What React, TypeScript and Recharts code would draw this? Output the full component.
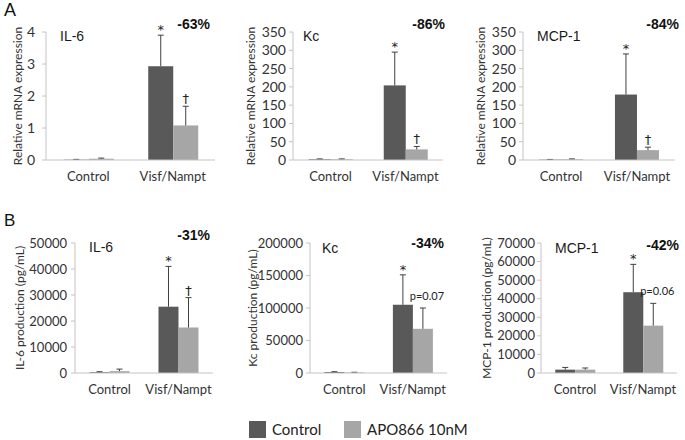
import React from 'react';
import { BarChart, Bar, XAxis, YAxis, Label } from 'recharts';

// x categories shared by every panel
const categories = ['Control', 'Visf/Nampt'];

// A: relative mRNA expression
const il6MrnaCtrl = [0.01, 2.93];
const il6MrnaCtrlErr = [0.01, 0.97];
const il6MrnaApo = [0.04, 1.08];
const il6MrnaApoErr = [0.02, 0.6];

const kcMrnaCtrl = [2, 204];
const kcMrnaCtrlErr = [1, 91];
const kcMrnaApo = [2, 29];
const kcMrnaApoErr = [1, 8];

const mcpMrnaCtrl = [1, 179];
const mcpMrnaCtrlErr = [0.5, 111];
const mcpMrnaApo = [2, 27];
const mcpMrnaApoErr = [1, 8];

// B: protein production (pg/mL)
const il6ProdCtrl = [300, 25500];
const il6ProdCtrlErr = [200, 15500];
const il6ProdApo = [700, 17500];
const il6ProdApoErr = [800, 11500];

const kcProdCtrl = [1500, 105000];
const kcProdCtrlErr = [500, 46000];
const kcProdApo = [800, 68000];
const kcProdApoErr = [300, 32000];

const mcpProdCtrl = [1800, 43500];
const mcpProdCtrlErr = [1200, 15000];
const mcpProdApo = [1800, 25500];
const mcpProdApoErr = [900, 12000];

// tick labels
const ticksIl6Mrna = [0, 1, 2, 3, 4];
const ticks350 = [0, 50, 100, 150, 200, 250, 300, 350];
const ticksIl6Prod = [0, 10000, 20000, 30000, 40000, 50000];
const ticksKcProd = [0, 50000, 100000, 150000, 200000];
const ticksMcpProd = [0, 10000, 20000, 30000, 40000, 50000, 60000, 70000];

// significance marks over the Visf/Nampt bars
const ctrlMarks = ['', '*'];
const apoMarksA = ['', '†'];
const apoMarksIl6Prod = ['', '†'];
const apoMarksKcProd = ['', 'p=0.07'];
const apoMarksMcpProd = ['', 'p=0.06'];

const DARK = '#595959';
const LIGHT = '#a6a6a6';
const AXIS = '#c4c4c4';
const CALIBRI = 'Lato, "Open Sans", sans-serif';
const ARIAL = '"Liberation Sans", Arial, sans-serif';

const makeRows = (ctrl, ctrlErr, apo, apoErr, apoMarks) =>
  categories.map((name, i) => ({
    name,
    ctrl: ctrl[i],
    ctrlErr: ctrlErr[i],
    ctrlMark: ctrlMarks[i],
    apo: apo[i],
    apoErr: apoErr[i],
    apoMark: apoMarks[i],
  }));

// bar with an upward-only error whisker and its significance mark
const barWithError = (valKey, errKey, markKey) => (props) => {
  const { x, y, width, height, payload, fill } = props;
  const v = payload[valKey];
  const e = payload[errKey];
  const k = v > 0 ? height / v : 0;
  const cx = x + width / 2;
  const yTop = y - e * k;
  const mark = payload[markKey];
  const isP = mark && mark.startsWith('p=');
  const markY = isP ? yTop - 8 : mark === '*' ? yTop - 1 : yTop - 3;
  return (
    <g>
      <rect x={x} y={y} width={width} height={Math.max(height, 0)} fill={fill} />
      {e > 0 && <line x1={cx} x2={cx} y1={y} y2={yTop} stroke="#404040" strokeWidth={1} />}
      {e > 0 && <line x1={cx - 3} x2={cx + 3} y1={yTop} y2={yTop} stroke="#404040" strokeWidth={1} />}
      {mark && (
        <text
          x={cx + (isP ? 4 : 0)}
          y={markY}
          textAnchor="middle"
          fill="#222222"
          fontSize={isP ? 11 : 13}
          fontFamily={isP ? CALIBRI : '"DejaVu Sans", sans-serif'}
        >
          {mark}
        </text>
      )}
    </g>
  );
};

const panels = [
  { title: 'IL-6', pct: '-63%', yLabel: 'Relative mRNA expression', rows: makeRows(il6MrnaCtrl, il6MrnaCtrlErr, il6MrnaApo, il6MrnaApoErr, apoMarksA), ticks: ticksIl6Mrna,
    left: 0, axisX: 46, plotRight: 215, row: 0, tickMargin: 7, yLabelX: 17, titleX: 60, titleY: 36, pctX: 210, pctY: 24 },
  { title: 'Kc', pct: '-86%', yLabel: 'Relative mRNA expression', rows: makeRows(kcMrnaCtrl, kcMrnaCtrlErr, kcMrnaApo, kcMrnaApoErr, apoMarksA), ticks: ticks350,
    left: 228, axisX: 293, plotRight: 443, row: 0, tickMargin: 3, yLabelX: 250, titleX: 303, titleY: 36, pctX: 445, pctY: 24 },
  { title: 'MCP-1', pct: '-84%', yLabel: 'Relative mRNA expression', rows: makeRows(mcpMrnaCtrl, mcpMrnaCtrlErr, mcpMrnaApo, mcpMrnaApoErr, apoMarksA), ticks: ticks350,
    left: 458, axisX: 523, plotRight: 675, row: 0, tickMargin: 3, yLabelX: 480, titleX: 537, titleY: 36, pctX: 679, pctY: 24 },
  { title: 'IL-6', pct: '-31%', yLabel: 'IL-6 production (pg/mL)', rows: makeRows(il6ProdCtrl, il6ProdCtrlErr, il6ProdApo, il6ProdApoErr, apoMarksIl6Prod), ticks: ticksIl6Prod,
    left: 0, axisX: 75, plotRight: 213, row: 1, tickMargin: 4, yLabelX: 19, titleX: 89, titleY: 247, pctX: 210, pctY: 235 },
  { title: 'Kc', pct: '-34%', yLabel: 'Kc production (pg/mL)', rows: makeRows(kcProdCtrl, kcProdCtrlErr, kcProdApo, kcProdApoErr, apoMarksKcProd), ticks: ticksKcProd,
    left: 228, axisX: 310, plotRight: 447, row: 1, tickMargin: 3, yLabelX: 252, titleX: 322, titleY: 248, pctX: 444, pctY: 243 },
  { title: 'MCP-1', pct: '-42%', yLabel: 'MCP-1 production (pg/mL)', rows: makeRows(mcpProdCtrl, mcpProdCtrlErr, mcpProdApo, mcpProdApoErr, apoMarksMcpProd), ticks: ticksMcpProd,
    left: 458, axisX: 541, plotRight: 677, row: 1, tickMargin: 2, yLabelX: 486, titleX: 555, titleY: 248, pctX: 679, pctY: 245 },
];

const rowsGeom = [
  { top: 20, plotTop: 32, plotBottom: 160, tickFont: 14 },
  { top: 230, plotTop: 243, plotBottom: 373, tickFont: 13 },
];

const Panel = ({ p }) => {
  const g = rowsGeom[p.row];
  const width = p.plotRight + 5 - p.left;
  const height = g.plotBottom - g.top + 35;
  const labelX = p.yLabelX - p.left;
  const labelY = (g.plotTop + g.plotBottom) / 2 - g.top;
  return (
    <div style={{ position: 'absolute', left: p.left, top: g.top }}>
      <BarChart
        width={width}
        height={height}
        data={p.rows}
        margin={{ top: g.plotTop - g.top, right: 5, bottom: 5, left: 0 }}
        barGap={0}
        barCategoryGap="21%"
      >
        <XAxis
          dataKey="name"
          height={30}
          tickLine={false}
          tickSize={6}
          tickMargin={6}
          axisLine={{ stroke: AXIS }}
          tick={{ fill: '#333', fontSize: 13, fontFamily: CALIBRI }}
        />
        <YAxis
          width={p.axisX - p.left}
          type="number"
          domain={[0, p.ticks[p.ticks.length - 1]]}
          ticks={p.ticks}
          interval={0}
          tickSize={4}
          tickMargin={p.tickMargin}
          tickLine={{ stroke: AXIS }}
          axisLine={{ stroke: AXIS }}
          tick={{ fill: '#333', fontSize: g.tickFont, fontFamily: CALIBRI }}
        >
          <Label
            content={() => (
              <text
                x={labelX}
                y={labelY}
                transform={`rotate(-90 ${labelX} ${labelY})`}
                textAnchor="middle"
                dominantBaseline="central"
                fill="#333"
                fontSize={12}
                fontFamily={CALIBRI}
              >
                {p.yLabel}
              </text>
            )}
          />
        </YAxis>
        <Bar dataKey="ctrl" fill={DARK} isAnimationActive={false} shape={barWithError('ctrl', 'ctrlErr', 'ctrlMark')} />
        <Bar dataKey="apo" fill={LIGHT} isAnimationActive={false} shape={barWithError('apo', 'apoErr', 'apoMark')} />
      </BarChart>
      <div
        style={{
          position: 'absolute', left: p.titleX - p.left, top: p.titleY - g.top - 8,
          fontFamily: ARIAL, fontSize: 14, lineHeight: '16px', color: '#1a1a1a', whiteSpace: 'nowrap',
        }}
      >
        {p.title}
      </div>
      <div
        style={{
          position: 'absolute', left: p.pctX - p.left - 60, width: 60, top: p.pctY - g.top - 8,
          textAlign: 'right', fontFamily: ARIAL, fontSize: 14, fontWeight: 'bold', lineHeight: '16px', color: '#111',
        }}
      >
        {p.pct}
      </div>
    </div>
  );
};

export default function App() {
  return (
    <div style={{ position: 'absolute', left: 0, top: 0, width: 685, height: 440, background: '#fff', overflow: 'hidden' }}>
      <div style={{ position: 'absolute', left: 4, top: 0, fontFamily: ARIAL, fontSize: 18, lineHeight: '20px', color: '#111' }}>A</div>
      <div style={{ position: 'absolute', left: 4, top: 211, fontFamily: ARIAL, fontSize: 17, lineHeight: '20px', color: '#111' }}>B</div>
      {panels.map((p, i) => (
        <Panel key={i} p={p} />
      ))}
      <div style={{ position: 'absolute', left: 249, top: 421, width: 17, height: 17, background: DARK }} />
      <div style={{ position: 'absolute', left: 272, top: 419, fontFamily: CALIBRI, fontSize: 15, lineHeight: '20px', color: '#222' }}>Control</div>
      <div style={{ position: 'absolute', left: 344, top: 421, width: 17, height: 17, background: LIGHT }} />
      <div style={{ position: 'absolute', left: 367, top: 419, fontFamily: CALIBRI, fontSize: 15, lineHeight: '20px', color: '#222' }}>APO866 10nM</div>
    </div>
  );
}
